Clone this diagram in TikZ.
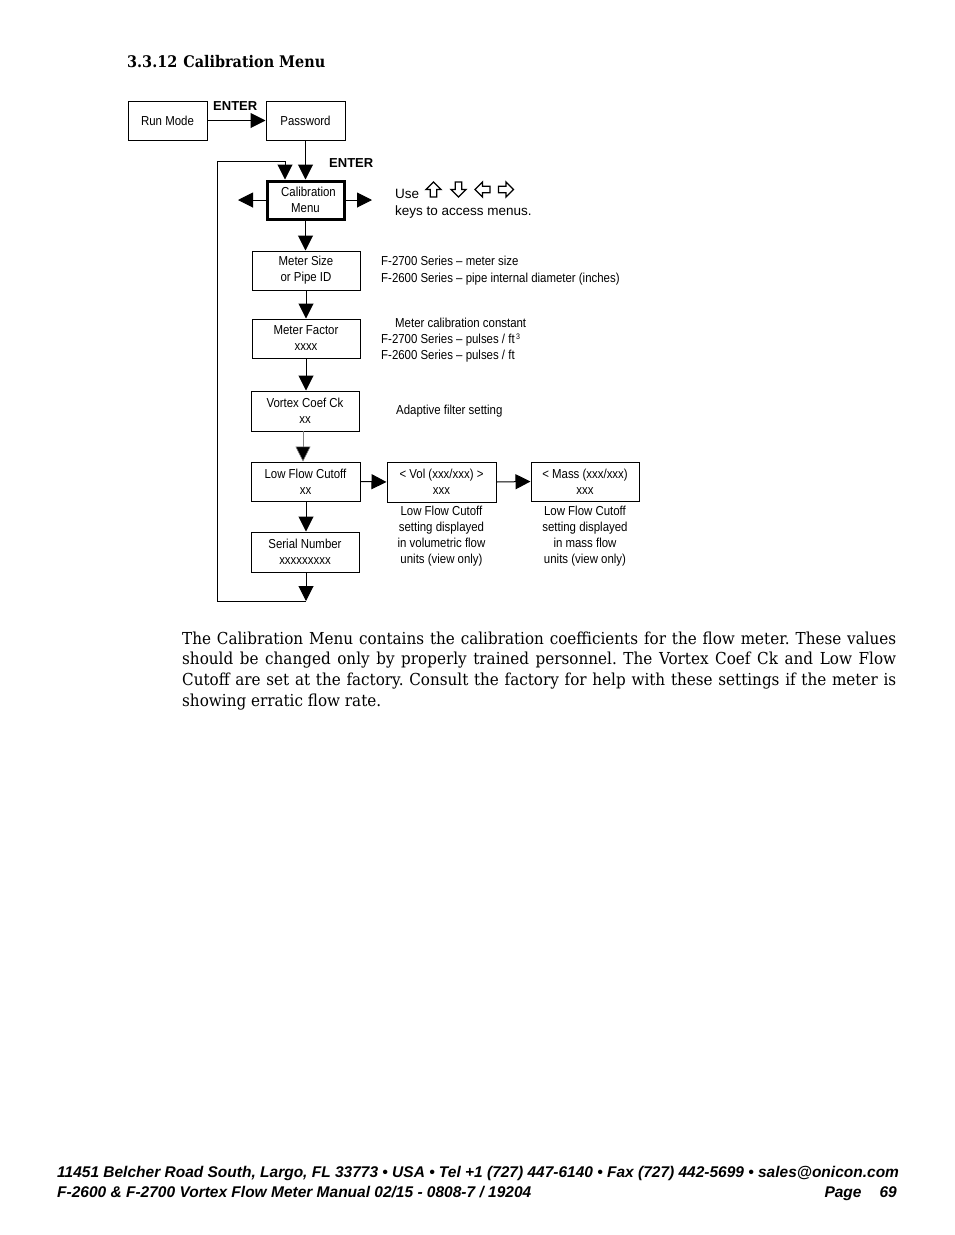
\documentclass[tikz,border=0pt]{standalone}
\usepackage{fontspec}
\usetikzlibrary{arrows.meta}
\newfontfamily\nar[FakeStretch=0.88]{Liberation Sans}
\newfontfamily\ari{Liberation Sans}
\newfontfamily\bodyf[FakeStretch=0.92]{DejaVu Serif}
\newfontfamily\headf[FakeStretch=0.9]{DejaVu Serif}
\newfontfamily\footf{Liberation Sans}
\tikzset{
  box/.style={draw, line width=1pt, inner sep=0pt, align=center,
    font=\nar\fontsize{13}{16}\selectfont},
  lbl/.style={inner sep=0pt, font=\nar\fontsize{13}{16}\selectfont},
  flow/.style={line width=1pt, -{Triangle[length=15pt,width=15pt]}},
  plain/.style={line width=1pt},
  enter/.style={inner sep=0pt, font=\ari\bfseries\fontsize{13}{15}\selectfont},
  keyarrow/.style={line width=1.3pt, line join=miter},
  foottext/.style={inner sep=0pt, font=\footf\bfseries\itshape\fontsize{15.5}{18}\selectfont}
}
\begin{document}
\begin{tikzpicture}[x=1pt,y=-1pt]
\useasboundingbox[fill=white] (0,0) rectangle (954,1235);
% heading
\node[anchor=base west, inner sep=0pt, font=\headf\bfseries\fontsize{16}{18}\selectfont] (head) at (127,67.5) {3.3.12\hspace{6pt}Calibration Menu};
% boxes
\node[box, minimum width=79pt, minimum height=39pt] (run) at (167.5,120.5) {Run Mode};
\node[box, minimum width=79pt, minimum height=39pt] (pw) at (305.5,120.5) {Password};
\node[box, line width=3pt, minimum width=77pt, minimum height=38pt] (cal) at (305.5,200) {\hspace{6pt}Calibration\\Menu};
\node[box, minimum width=108pt, minimum height=39pt] (ms) at (306,270.5) {Meter Size\\or Pipe ID};
\node[box, minimum width=108pt, minimum height=39pt] (mf) at (306,338.5) {Meter Factor\\xxxx};
\node[box, minimum width=108pt, minimum height=40pt] (vc) at (305,411) {Vortex Coef Ck\\xx};
\node[box, minimum width=109pt, minimum height=39pt] (lf) at (305.5,481.5) {Low Flow Cutoff\\xx};
\node[box, minimum width=109pt, minimum height=40pt] (vol) at (441.5,482) {{<} Vol (xxx/xxx) {>}\\xxx};
\node[box, minimum width=108pt, minimum height=39pt] (mass) at (585,481.5) {{<} Mass (xxx/xxx)\\xxx};
\node[box, minimum width=108pt, minimum height=40pt] (ser) at (305,552) {Serial Number\\xxxxxxxxx};
% labels
\node[enter, anchor=base west] (en1) at (213,110) {ENTER};
\node[enter, anchor=base west] (en2) at (329,167) {ENTER};
\node[anchor=base west, inner sep=0pt, font=\ari\fontsize{13.5}{17}\selectfont] (use) at (395,198.5) {Use};
\node[anchor=base west, inner sep=0pt, font=\ari\fontsize{13.5}{17}\selectfont] (keys) at (395,215) {keys to access menus.};
% outlined key arrows
\foreach \cx/\ang in {433.5/0, 458.5/180, 482.5/90, 506/-90}{
  \draw[keyarrow, shift={(\cx,189.5)}, rotate=\ang]
    (0,-7.5) -- (7.5,0) -- (3.2,0) -- (3.2,7.5) -- (-3.2,7.5) -- (-3.2,0) -- (-7.5,0) -- cycle;
}
\node[lbl, anchor=base west] (t1) at (381,265.5) {F-2700 Series – meter size};
\node[lbl, anchor=base west] (t2) at (381,282.5) {F-2600 Series – pipe internal diameter (inches)};
\node[lbl, anchor=base west] (t3) at (395,327.5) {Meter calibration constant};
\node[lbl, anchor=base west] (t4) at (381,343.5) {F-2700 Series – pulses / ft\raisebox{4pt}{\fontsize{8}{8}\selectfont\,3}};
\node[lbl, anchor=base west] (t5) at (381,359.5) {F-2600 Series – pulses / ft};
\node[lbl, anchor=base west] (t6) at (396,414.5) {Adaptive filter setting};
\node[lbl, align=center, anchor=north] (cv) at (441.5,505.5) {Low Flow Cutoff\\setting displayed\\in volumetric flow\\units (view only)};
\node[lbl, align=center, anchor=north] (cm) at (585,505.5) {Low Flow Cutoff\\setting displayed\\in mass flow\\units (view only)};
% connectors
\draw[flow] (run.east) -- (pw.west);
\draw[flow] (pw.south) -- (cal.north);
\coordinate (calL) at (238,200);
\coordinate (calR) at (372,200);
\draw[flow] (cal.west) -- (calL);
\draw[flow] (cal.east) -- (calR);
\draw[flow] (cal.south) -- (cal.south |- ms.north);
\draw[flow] (ms.south) -- (mf.north);
\draw[flow] (mf.south) -- (mf.south |- vc.north);
\coordinate (vcb) at (303,431);
\draw[line width=0.5pt, draw=gray, -{Triangle[length=15pt,width=15pt,fill=black]}] (vcb) -- (vcb |- lf.north);
\draw[flow] (lf.east) -- (vol.west);
\draw[flow] (vol.east) -- (mass.west);
\coordinate (lfb) at (306,501);
\draw[flow] (lfb) -- (lfb |- ser.north);
\coordinate (serb) at (306,572);
\coordinate (lb) at (306,601);
\coordinate (lc) at (217,601);
\coordinate (lt) at (217,161);
\coordinate (le) at (285,161);
\draw[flow] (serb) -- (lb);
\draw[plain] (lb) -- (lc) -- (lt) -- (le);
\draw[flow] (le) -- (le |- cal.north);
% body text
\node[anchor=base west, inner sep=0pt, text width=714pt, align=justify,
  font=\bodyf\fontsize{16.5}{20.7}\selectfont\frenchspacing] (body) at (182,644)
  {The Calibration Menu contains the calibration coefficients for the flow meter. These values\linebreak
   should be changed only by properly trained personnel. The Vortex Coef Ck and Low Flow\linebreak
   Cutoff are set at the factory. Consult the factory for help with these settings if the meter is\linebreak
   showing erratic flow rate.};
% footer
\node[foottext, anchor=base west] (f1) at (57,1177.5)
  {11451 Belcher Road South, Largo, FL 33773 • USA • Tel +1 (727) 447-6140 • Fax (727) 442-5699 • sales@onicon.com};
\node[foottext, anchor=base west] (f2) at (57,1197.5)
  {F-2600 \& F-2700 Vortex Flow Meter Manual 02/15 - 0808-7 / 19204};
\node[foottext, anchor=base east] (f3) at (897,1197.5)
  {Page\hspace{18pt}69};
\end{tikzpicture}
\end{document}
